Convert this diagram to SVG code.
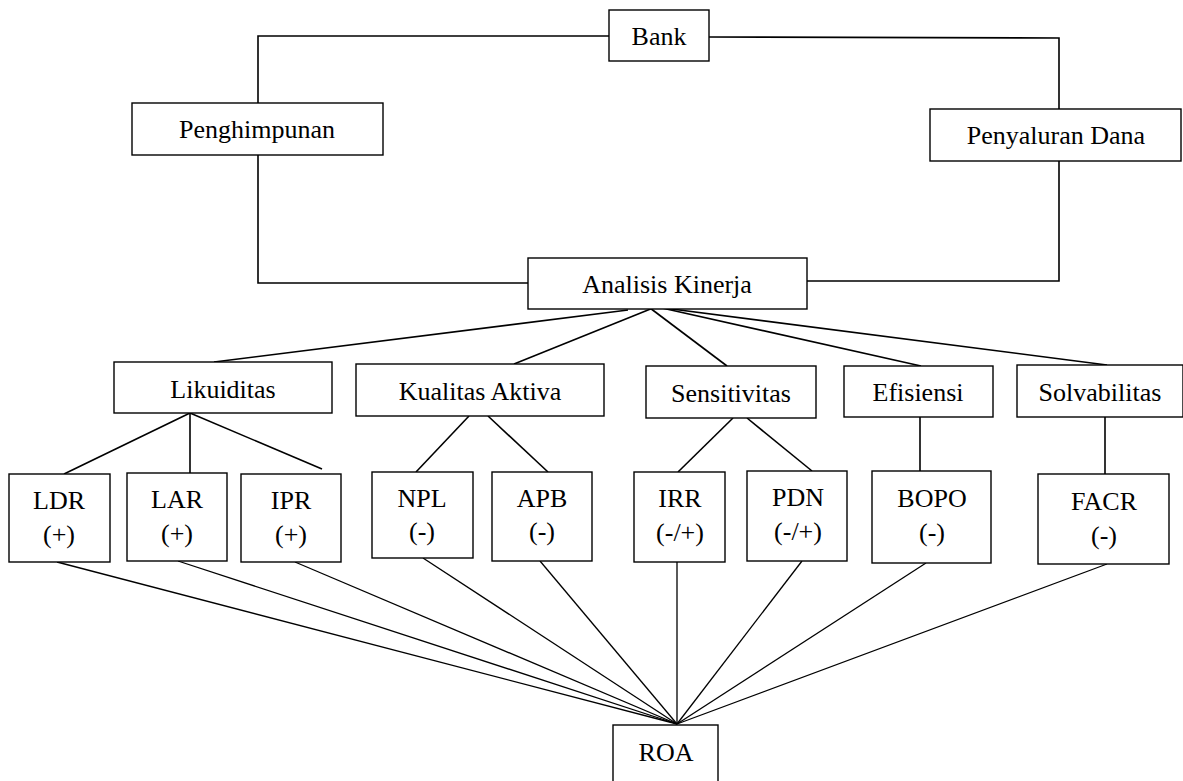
<svg xmlns="http://www.w3.org/2000/svg" width="1183" height="781" viewBox="0 0 1183 781">
<style>
.box{fill:#fff;stroke:#000;stroke-width:1.4}
.c line,.c polyline{stroke:#000;stroke-width:1.6;fill:none}
.c .thin{stroke-width:1.3}
</style>
<rect width="1183" height="781" fill="#fff"/>
<g class="c" id="connectors">
<polyline points="609,36 258,36 258,103"/>
<polyline points="258,155 258,283 528,283"/>
<polyline points="709,37 1059,38 1059,109"/>
<polyline points="1059,161 1059,281 807,281"/>
<line x1="628" y1="310" x2="214" y2="362"/>
<line x1="653" y1="308" x2="514" y2="364"/>
<line x1="650" y1="308" x2="727" y2="366"/>
<line x1="662" y1="308" x2="921" y2="366"/>
<line x1="664" y1="308" x2="1107" y2="365"/>
<line x1="190" y1="413" x2="64" y2="474"/>
<line x1="190" y1="413" x2="190" y2="473"/>
<line x1="190" y1="413" x2="322" y2="469"/>
<line x1="469" y1="416" x2="416" y2="472"/>
<line x1="488" y1="416" x2="548" y2="472"/>
<line x1="733" y1="418" x2="678" y2="472"/>
<line x1="747" y1="418" x2="812" y2="471"/>
<line x1="920" y1="417" x2="920" y2="471"/>
<line x1="1105" y1="417" x2="1105" y2="474"/>
<line class="thin" x1="57" y1="562" x2="677" y2="724"/>
<line class="thin" x1="178" y1="561" x2="677" y2="724"/>
<line class="thin" x1="295" y1="562" x2="677" y2="724"/>
<line class="thin" x1="423" y1="558" x2="677" y2="724"/>
<line class="thin" x1="540" y1="561" x2="677" y2="724"/>
<line class="thin" x1="677" y1="562" x2="677" y2="724"/>
<line class="thin" x1="802" y1="561" x2="677" y2="724"/>
<line class="thin" x1="926" y1="563" x2="677" y2="724"/>
<line class="thin" x1="1107" y1="564" x2="677" y2="724"/>
</g>
<g font-family="Liberation Serif, serif" font-size="26" fill="#000" text-anchor="middle">
<g id="bank"><rect class="box" x="609" y="10" width="100" height="51"/><text x="659" y="45">Bank</text></g>
<g id="penghimpunan"><rect class="box" x="132" y="103" width="251" height="52"/><text x="257" y="138">Penghimpunan</text></g>
<g id="penyaluran"><rect class="box" x="930" y="109" width="251" height="52"/><text x="1056" y="144">Penyaluran Dana</text></g>
<g id="analisis"><rect class="box" x="528" y="258" width="279" height="51"/><text x="667" y="293">Analisis Kinerja</text></g>
<g id="likuiditas"><rect class="box" x="114" y="362" width="218" height="51"/><text x="223" y="398">Likuiditas</text></g>
<g id="kualitas"><rect class="box" x="356" y="364" width="248" height="52"/><text x="480" y="400">Kualitas Aktiva</text></g>
<g id="sensitivitas"><rect class="box" x="646" y="366" width="170" height="52"/><text x="731" y="402">Sensitivitas</text></g>
<g id="efisiensi"><rect class="box" x="844" y="366" width="149" height="51"/><text x="918" y="401">Efisiensi</text></g>
<g id="solvabilitas"><rect class="box" x="1017" y="365" width="166" height="52"/><text x="1100" y="401">Solvabilitas</text></g>
<g id="ldr"><rect class="box" x="9" y="474" width="101" height="88"/><text x="59" y="509">LDR</text><text x="59" y="543">(+)</text></g>
<g id="lar"><rect class="box" x="127" y="473" width="100" height="88"/><text x="177" y="508">LAR</text><text x="177" y="542">(+)</text></g>
<g id="ipr"><rect class="box" x="241" y="474" width="100" height="88"/><text x="291" y="509">IPR</text><text x="291" y="543">(+)</text></g>
<g id="npl"><rect class="box" x="372" y="472" width="101" height="86"/><text x="422" y="507">NPL</text><text x="422" y="540">(-)</text></g>
<g id="apb"><rect class="box" x="492" y="472" width="100" height="89"/><text x="542" y="507">APB</text><text x="542" y="540">(-)</text></g>
<g id="irr"><rect class="box" x="634" y="472" width="91" height="90"/><text x="680" y="507">IRR</text><text x="680" y="541">(-/+)</text></g>
<g id="pdn"><rect class="box" x="747" y="471" width="100" height="90"/><text x="798" y="506">PDN</text><text x="798" y="540">(-/+)</text></g>
<g id="bopo"><rect class="box" x="872" y="471" width="119" height="92"/><text x="932" y="507">BOPO</text><text x="932" y="541">(-)</text></g>
<g id="facr"><rect class="box" x="1038" y="474" width="131" height="90"/><text x="1104" y="510">FACR</text><text x="1104" y="544">(-)</text></g>
<g id="roa"><rect class="box" x="613" y="725" width="105" height="70"/><text x="666" y="761">ROA</text></g>
</g>
</svg>
